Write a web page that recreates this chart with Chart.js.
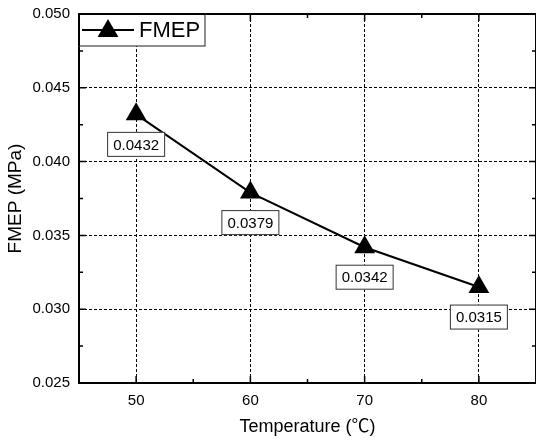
<!DOCTYPE html>
<html>
<head>
<meta charset="utf-8">
<script src="https://cdn.jsdelivr.net/npm/chart.js@4/dist/chart.umd.min.js"></script>
<style>
  html, body { margin: 0; padding: 0; background: #fff; }
  #wrap { width: 536px; height: 442px; overflow: hidden; }
</style>
</head>
<body>
<div id="wrap"><canvas id="chart" width="536" height="442"></canvas></div>
<script>
const temperatures = [50, 60, 70, 80];
const fmepValues = [0.0432, 0.0379, 0.0342, 0.0315];
const xTickValues = [50, 60, 70, 80];
const xMinorTicks = [55, 65, 75];
const yTickValues = [0.025, 0.030, 0.035, 0.040, 0.045, 0.050];
const yMinorTicks = [0.0275, 0.0325, 0.0375, 0.0425, 0.0475];
const seriesName = "FMEP";

const FONT = "'Liberation Sans', Arial, 'Noto Sans CJK SC', sans-serif";

// inward ticks, frame, value boxes and legend (Origin style)
const originStyle = {
  id: "originStyle",
  afterDatasetsDraw(chart) {
    const ctx = chart.ctx;
    const area = chart.chartArea;
    const xs = chart.scales.x;
    const ys = chart.scales.y;

    ctx.save();
    ctx.strokeStyle = "#000";
    ctx.lineWidth = 1.5;
    ctx.beginPath();
    xTickValues.forEach(v => {
      const px = xs.getPixelForValue(v);
      ctx.moveTo(px, area.bottom); ctx.lineTo(px, area.bottom - 7);
      ctx.moveTo(px, area.top); ctx.lineTo(px, area.top + 7);
    });
    xMinorTicks.forEach(v => {
      const px = xs.getPixelForValue(v);
      ctx.moveTo(px, area.bottom); ctx.lineTo(px, area.bottom - 4);
      ctx.moveTo(px, area.top); ctx.lineTo(px, area.top + 4);
    });
    yTickValues.forEach(v => {
      const py = ys.getPixelForValue(v);
      ctx.moveTo(area.left, py); ctx.lineTo(area.left + 7, py);
      ctx.moveTo(area.right, py); ctx.lineTo(area.right - 7, py);
    });
    yMinorTicks.forEach(v => {
      const py = ys.getPixelForValue(v);
      ctx.moveTo(area.left, py); ctx.lineTo(area.left + 4, py);
      ctx.moveTo(area.right, py); ctx.lineTo(area.right - 4, py);
    });
    ctx.stroke();

    // frame
    ctx.lineWidth = 2;
    ctx.strokeRect(area.left, area.top, area.right - area.left, area.bottom - area.top);

    // value boxes below each point
    ctx.font = "15px " + FONT;
    ctx.textAlign = "center";
    ctx.textBaseline = "middle";
    temperatures.forEach((t, i) => {
      const px = xs.getPixelForValue(t);
      const py = ys.getPixelForValue(fmepValues[i]);
      const label = fmepValues[i].toFixed(4);
      const w = 58, h = 25;
      const cy = py + 30;
      ctx.fillStyle = "#fff";
      ctx.fillRect(px - w / 2, cy - h / 2, w, h);
      ctx.strokeStyle = "#333";
      ctx.lineWidth = 1;
      ctx.strokeRect(px - w / 2 + 0.5, cy - h / 2 + 0.5, w - 1, h - 1);
      ctx.fillStyle = "#000";
      ctx.fillText(label, px, cy + 1);
    });

    // legend box
    const lx = area.left, ly = area.top, lw = 126, lh = 32;
    ctx.fillStyle = "#fff";
    ctx.fillRect(lx, ly, lw, lh);
    ctx.strokeStyle = "#444";
    ctx.lineWidth = 1.2;
    ctx.strokeRect(lx, ly, lw, lh);
    ctx.strokeStyle = "#000";
    ctx.lineWidth = 2;
    ctx.beginPath();
    ctx.moveTo(lx, ly); ctx.lineTo(lx + lw, ly);
    ctx.moveTo(lx, ly); ctx.lineTo(lx, ly + lh);
    ctx.stroke();
    const cy = ly + lh / 2;
    ctx.beginPath();
    ctx.moveTo(lx + 3, cy); ctx.lineTo(lx + 55, cy);
    ctx.stroke();
    const r = 12, cx = lx + 29, tcy = cy + 1;
    ctx.fillStyle = "#000";
    ctx.beginPath();
    ctx.moveTo(cx, tcy - r);
    ctx.lineTo(cx + r * 0.866, tcy + r / 2);
    ctx.lineTo(cx - r * 0.866, tcy + r / 2);
    ctx.closePath();
    ctx.fill();
    ctx.font = "22px " + FONT;
    ctx.textAlign = "left";
    ctx.fillText(seriesName, lx + 60, cy + 1);
    ctx.restore();
  }
};

new Chart(document.getElementById("chart"), {
  type: "scatter",
  data: {
    datasets: [{
      label: seriesName,
      data: temperatures.map((t, i) => ({ x: t, y: fmepValues[i] })),
      showLine: true,
      borderColor: "#000",
      borderWidth: 2,
      backgroundColor: "#000",
      pointStyle: "triangle",
      pointRadius: 12,
      pointHoverRadius: 12,
      pointBorderWidth: 0
    }]
  },
  options: {
    responsive: false,
    animation: false,
    devicePixelRatio: 1,
    layout: { autoPadding: false, padding: { top: 14, right: -2, left: 0, bottom: 0 } },
    plugins: { legend: { display: false }, tooltip: { enabled: false } },
    scales: {
      x: {
        type: "linear",
        min: 45,
        max: 85,
        afterBuildTicks: axis => { axis.ticks = xTickValues.map(v => ({ value: v })); },
        afterFit: axis => { axis.height = 59; axis.paddingLeft = 0; axis.paddingRight = 0; },
        grid: { color: "#000", lineWidth: 1, drawTicks: false },
        border: { display: false, dash: [3, 2] },
        ticks: { color: "#000", padding: 9, font: { family: FONT, size: 15 } },
        title: { display: true, text: "Temperature (℃)", color: "#000", padding: { top: 4 }, font: { family: FONT, size: 18 } }
      },
      y: {
        type: "linear",
        min: 0.025,
        max: 0.050,
        afterBuildTicks: axis => { axis.ticks = yTickValues.map(v => ({ value: v })); },
        afterFit: axis => { axis.width = 79; axis.paddingTop = 0; axis.paddingBottom = 0; },
        grid: { color: "#000", lineWidth: 1, drawTicks: false },
        border: { display: false, dash: [3, 2] },
        ticks: { color: "#000", padding: 9, font: { family: FONT, size: 15 }, callback: v => v.toFixed(3) },
        title: { display: true, text: "FMEP (MPa)", color: "#000", padding: { bottom: 2 }, font: { family: FONT, size: 19 } }
      }
    }
  },
  plugins: [originStyle]
});
</script>
</body>
</html>
